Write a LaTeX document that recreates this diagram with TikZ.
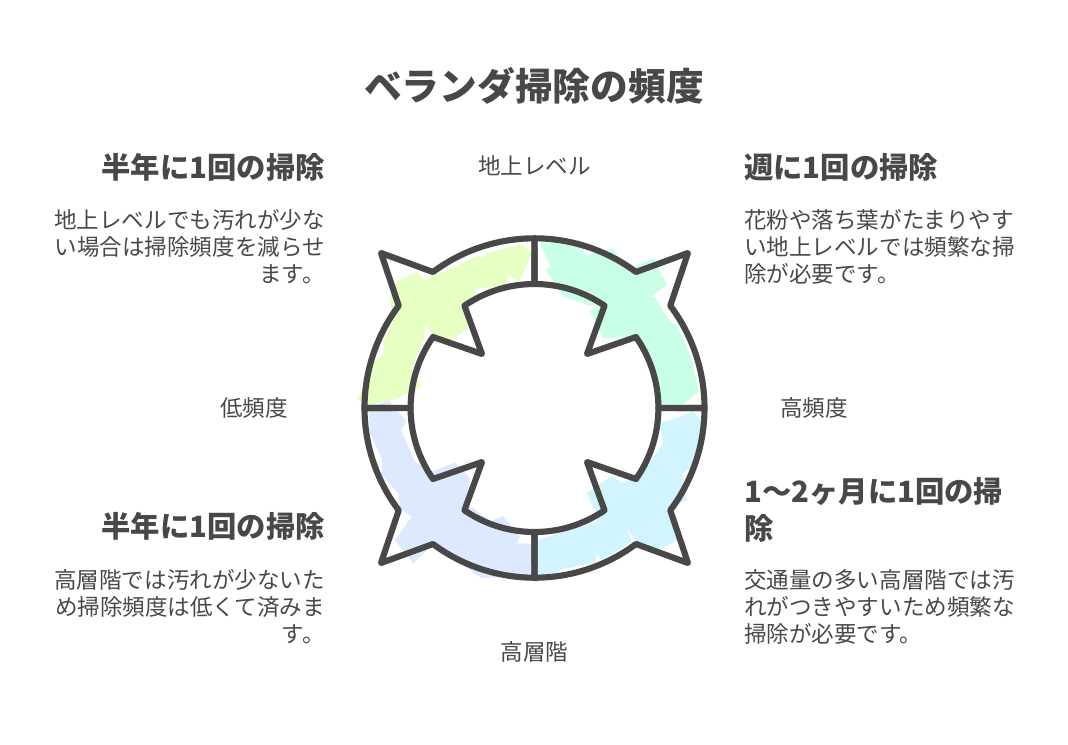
\documentclass[tikz,border=0pt]{standalone}
\usepackage{fontspec}
\setmainfont{Noto Sans CJK JP}
\usepackage{tikz}

\definecolor{inkgray}{HTML}{484848}
\definecolor{lime}{HTML}{E6FFC2}
\definecolor{mint}{HTML}{C8FFE6}
\definecolor{sky}{HTML}{D2F4FF}
\definecolor{periwinkle}{HTML}{DCE9FF}

\tikzset{
  ringpart/.style={draw=inkgray,line width=4.6pt,line join=round},
  titletext/.style={text=inkgray,font=\fontsize{28.3}{34}\selectfont\bfseries,inner sep=0pt},
  headtext/.style={text=inkgray,font=\fontsize{22}{27.75}\selectfont\bfseries,inner sep=0pt},
  bodytext/.style={text=inkgray,font=\fontsize{16.9}{20.25}\selectfont,inner sep=0pt},
}

\begin{document}
\begin{tikzpicture}[x=0.75pt,y=-0.75pt]
\useasboundingbox (0,0) rectangle (1068,744);

% rough colour patches
\fill[periwinkle] (368.3,410) -- (388.3,400) -- (406.7,421.7) -- (400.7,429.3) -- (415,461.7) -- (431.7,471.7) -- (455,462.7) -- (470,478.3) -- (465,510) -- (471.7,506.7) -- (490,521.7) -- (503.3,516) -- (520,536.7) -- (516.7,543.3) -- (530,543.3) -- (540,553.3) -- (540,576.7) -- (535,580) -- (530,574) -- (481.7,578.3) -- (460,563.3) -- (433.3,543.3) -- (413.3,563.3) -- (395,540) -- (411.7,516.7) -- (400,508.3) -- (398.3,493.3) -- (381.7,475) -- (381.7,458.3) -- (370,433.3) -- cycle;
\fill[lime] (357.3,400) -- (373.3,361.7) -- (383.3,355) -- (383.3,341.7) -- (393.3,321.7) -- (389.3,296.7) -- (396.7,281.7) -- (416.7,271.7) -- (425,280) -- (478.3,255.7) -- (483.3,258.3) -- (486.7,253.3) -- (521.7,244.3) -- (531.7,253.3) -- (519.3,281.7) -- (509.3,275) -- (506.7,285) -- (475,289) -- (475,295.7) -- (463.3,303.3) -- (468.3,328.3) -- (450,340) -- (432.7,335) -- (425,324.3) -- (424,338.3) -- (411.7,368.3) -- (421.7,386.7) -- (393.3,400) -- (366.7,405) -- cycle;
\fill[mint] (540,243.3) -- (580,240) -- (585,255.7) -- (613.3,247.7) -- (618.3,258.3) -- (633.3,266.7) -- (653.3,258.3) -- (666.7,284.3) -- (651.7,296.7) -- (655,297.7) -- (670,321.7) -- (676.7,325) -- (691.7,358.3) -- (698.3,391.7) -- (680,406.7) -- (660,405) -- (658.3,381.7) -- (651.7,356.7) -- (646.7,353.3) -- (636,336.7) -- (603.3,338.3) -- (590,311) -- (601.7,306.7) -- (588.3,305) -- (563.3,296.7) -- (546,270) -- (550.7,266.7) -- cycle;
\fill[sky] (660,423.3) -- (693.3,411.7) -- (706.7,428.3) -- (698.3,463.3) -- (682.7,473.3) -- (686.7,500) -- (671.7,508.3) -- (680,538.3) -- (661.7,549) -- (636.7,543.3) -- (626.7,527.3) -- (631.7,541.7) -- (601.7,560) -- (596.7,554.3) -- (595,562.7) -- (561.7,569.3) -- (536.7,582.7) -- (530,576.7) -- (536.7,540) -- (593.3,523.3) -- (606.7,510) -- (595,511.7) -- (586.7,493.3) -- (611.7,476) -- (623.3,483.3) -- (648.3,465) -- (663.3,443.3) -- cycle;

% four quarters of the ring
\foreach \sx/\sy in {-1/-1,1/-1,1/1,-1/1}{
  \begin{scope}[shift={(534.5,408)},xscale=\sx,yscale=\sy]
    \draw[ringpart] (-170,0) arc[start angle=180,end angle=217,radius=170] -- (-153.5,-155) -- (-101.5,-136) arc[start angle=233.3,end angle=270,radius=170] -- (0,-124) arc[start angle=270,end angle=235.6,radius=124] -- (-52.5,-54) -- (-101.5,-71) arc[start angle=215,end angle=180,radius=124] -- cycle;
  \end{scope}
}

\node[titletext] (title) at (534,86) {ベランダ掃除の頻度};

% top left
\node[headtext,anchor=north east,align=right] (halfhigh) at (325,153) {半年に1回の掃除};
\node[bodytext,anchor=north east,align=right] (halfhightext) at (325,209) {地上レベルでも汚れが少な\\い場合は掃除頻度を減らせ\\ます。};
% top right
\node[headtext,anchor=north west,align=left] (weekly) at (744,153) {週に1回の掃除};
\node[bodytext,anchor=north west,align=left] (weeklytext) at (744,209) {花粉や落ち葉がたまりやす\\い地上レベルでは頻繁な掃\\除が必要です。};
% bottom right
\node[headtext,anchor=north west,align=left] (monthly) at (744,477) {1～2ヶ月に1回の掃\\除};
\node[bodytext,anchor=north west,align=left] (monthlytext) at (744,569) {交通量の多い高層階では汚\\れがつきやすいため頻繁な\\掃除が必要です。};
% bottom left
\node[headtext,anchor=north east,align=right] (halflow) at (325,512) {半年に1回の掃除};
\node[bodytext,anchor=north east,align=right] (halflowtext) at (325,569) {高層階では汚れが少ないた\\め掃除頻度は低くて済みま\\す。};

% axis labels
\node[bodytext] (ground) at (534.5,166) {地上レベル};
\node[bodytext] (highfloor) at (534.5,652) {高層階};
\node[bodytext] (lowfreq) at (254,408) {低頻度};
\node[bodytext] (highfreq) at (814,408) {高頻度};
\end{tikzpicture}
\end{document}
